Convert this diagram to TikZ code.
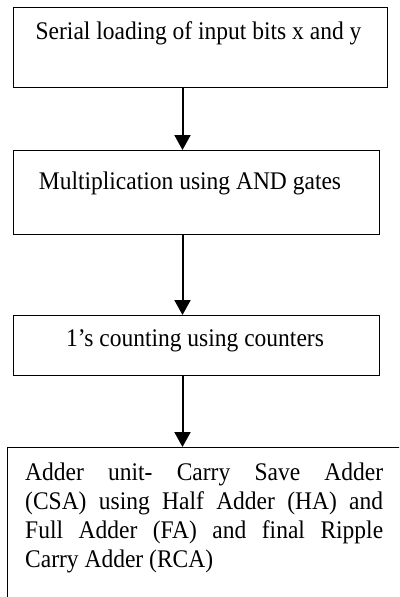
\documentclass[tikz,border=0pt]{standalone}
\usepackage{graphicx}
\usepackage{fontspec}
\setmainfont{Liberation Serif}
\usetikzlibrary{arrows.meta}
% slightly tall serif lettering used in every stage box
\newcommand{\tallline}[1]{\scalebox{1}[1.08]{#1}}
\begin{document}
\begin{tikzpicture}[x=1pt,y=-1pt,
  stagebox/.style={draw,line width=1pt,rectangle,inner sep=0pt,anchor=north west},
  stagetext/.style={inner sep=0pt,font=\fontsize{23.5}{29}\selectfont},
  flow/.style={line width=2pt,-{Triangle[length=15pt,width=16pt]}}]
\useasboundingbox (0,0) rectangle (399,597);
\clip (0,0) rectangle (399,597);

% column along which the connectors run
\coordinate (col) at (182.5,0);

% stage boxes
\node[stagebox,minimum width=374pt,minimum height=80pt] (load) at (12.5,7) {};
\node[stagebox,minimum width=366pt,minimum height=84pt] (mult) at (12.5,150) {};
\node[stagebox,minimum width=366pt,minimum height=60pt] (count) at (12.5,315) {};
\node[stagebox,minimum width=400pt,minimum height=170pt] (adder) at (7,447) {};

% stage labels
\node[stagetext,anchor=base] (loadtxt) at (198.5,39.5) {\tallline{Serial loading of input bits x and y}};
\node[stagetext,anchor=base] (multtxt) at (190,189) {\tallline{Multiplication using AND gates}};
\node[stagetext,anchor=base] (counttxt) at (195,346) {\tallline{1’s counting using counters}};
\node[stagetext,anchor=base west] (addl1) at (25,480) {\tallline{\makebox[358pt][s]{Adder unit- Carry Save Adder}}};
\node[stagetext,anchor=base west] (addl2) at (25,509) {\tallline{\makebox[358pt][s]{(CSA) using Half Adder (HA) and}}};
\node[stagetext,anchor=base west] (addl3) at (25,538) {\tallline{\makebox[358pt][s]{Full Adder (FA) and final Ripple}}};
\node[stagetext,anchor=base west] (addl4) at (25,567) {\tallline{Carry Adder (RCA)}};

% connectors
\draw[flow] (load.south -| col) -- (mult.north -| col);
\draw[flow] (mult.south -| col) -- (count.north -| col);
\draw[flow] (count.south -| col) -- (adder.north -| col);
\end{tikzpicture}
\end{document}
